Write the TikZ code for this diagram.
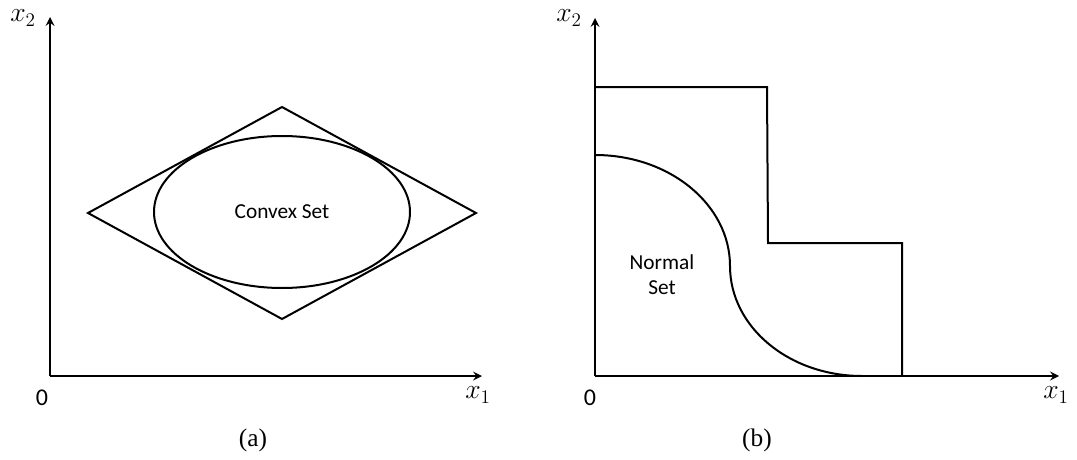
\documentclass[tikz,border=0pt]{standalone}
\usepackage{fontspec}
\setsansfont{Carlito}
\newfontfamily\timesfont{Liberation Serif}
\begin{document}
\begin{tikzpicture}[>=stealth,x=0.75pt,y=-0.75pt,
    axis/.style={->,line width=1.9pt},
    borde/.style={line width=1.5pt,line join=miter},
    lbl/.style={font=\sffamily\fontsize{16}{19}\selectfont},
    zerolbl/.style={font=\sffamily\fontsize{18}{21}\selectfont},
    mathlbl/.style={font=\fontsize{20}{24}\selectfont},
    caption/.style={font=\timesfont\fontsize{19}{22}\selectfont}]
    \useasboundingbox (0,0) rectangle (1077,460);
    % Ejes (a)
    \coordinate (oa) at (50,376);
    \coordinate (xa) at (482,376);
    \coordinate (ya) at (50,17);
    \draw[axis] (oa) -- (xa);
    \draw[axis] (oa) -- (ya);
    \node[mathlbl] (xalbl) at (478,395) {$x_1$};
    \node[mathlbl] (yalbl) at (23,18) {$x_2$};
    \node[zerolbl] (zeroa) at (42,398) {0};
    \node[caption] (capa) at (253,440) {(a)};
    % Rombo y elipse
    \coordinate (top) at (282,107);
    \coordinate (left) at (88,213);
    \coordinate (right) at (476,213);
    \coordinate (bot) at (282,319);
    \draw[borde] (top) -- (right) -- (bot) -- (left) -- cycle;
    \draw[borde] (282,212) ellipse [x radius=128, y radius=76];
    \node[lbl] (convex) at (282,212) {Convex Set};
    % Ejes (b)
    \coordinate (ob) at (595,376);
    \coordinate (xb) at (1059,376);
    \coordinate (yb) at (595,18);
    \draw[axis] (ob) -- (xb);
    \draw[axis] (ob) -- (yb);
    \node[mathlbl] (xblbl) at (1056,395) {$x_1$};
    \node[mathlbl] (yblbl) at (569,18) {$x_2$};
    \node[zerolbl] (zerob) at (590,398) {0};
    \node[caption] (capb) at (757,440) {(b)};
    % Escalera
    \draw[borde] (595,87) -- (767,87) -- (768,243) -- (902,243) -- (902,376);
    % Conjunto normal
    \draw[line width=1.5pt] (595,155) .. controls (670,155) and (730,205) .. (730,266)
      .. controls (730,327) and (789,376) .. (862,376);
    \node[lbl,align=center] (normal) at (662,275) {Normal\\Set};
  \end{tikzpicture}
\end{document}
